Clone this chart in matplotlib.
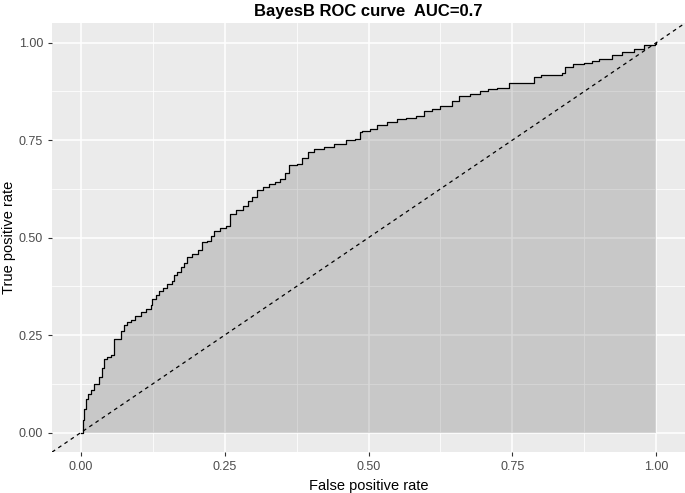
import matplotlib.pyplot as plt
import numpy as np

plt.rcParams['font.family'] = ['Liberation Sans', 'DejaVu Sans']

# ROC curve knots (false positive rate, true positive rate)
fpr = [0.0, 0.003, 0.006, 0.009, 0.012, 0.017, 0.023, 0.032, 0.036, 0.04, 0.046,
       0.052, 0.058, 0.066, 0.07, 0.075, 0.081, 0.087, 0.095, 0.104, 0.113, 0.122,
       0.124, 0.13, 0.136, 0.143, 0.15, 0.159, 0.162, 0.168, 0.174, 0.18, 0.185,
       0.194, 0.203, 0.211, 0.22, 0.226, 0.231, 0.242, 0.252, 0.26, 0.27, 0.281,
       0.29, 0.298, 0.307, 0.317, 0.327, 0.337, 0.347, 0.355, 0.362, 0.376, 0.385,
       0.394, 0.405, 0.422, 0.44, 0.46, 0.477, 0.486, 0.489, 0.503, 0.515, 0.532,
       0.55, 0.565, 0.582, 0.596, 0.61, 0.625, 0.642, 0.645, 0.657, 0.677, 0.694,
       0.708, 0.723, 0.744, 0.778, 0.787, 0.799, 0.836, 0.842, 0.856, 0.874, 0.888,
       0.9, 0.923, 0.94, 0.961, 0.978, 0.998, 1.0]
tpr = [0.0, 0.031, 0.06, 0.085, 0.1, 0.108, 0.125, 0.142, 0.165, 0.19, 0.195,
       0.2, 0.24, 0.24, 0.26, 0.275, 0.283, 0.29, 0.3, 0.308, 0.318, 0.326,
       0.343, 0.352, 0.364, 0.372, 0.381, 0.39, 0.403, 0.412, 0.424, 0.436, 0.45,
       0.458, 0.467, 0.488, 0.492, 0.505, 0.518, 0.525, 0.531, 0.561, 0.57, 0.582,
       0.593, 0.603, 0.621, 0.63, 0.638, 0.643, 0.65, 0.665, 0.685, 0.689, 0.705,
       0.719, 0.727, 0.732, 0.74, 0.75, 0.753, 0.77, 0.774, 0.779, 0.79, 0.797,
       0.804, 0.808, 0.813, 0.826, 0.831, 0.838, 0.838, 0.851, 0.862, 0.868, 0.877,
       0.88, 0.884, 0.897, 0.897, 0.911, 0.917, 0.921, 0.937, 0.945, 0.949, 0.953,
       0.958, 0.969, 0.977, 0.983, 0.993, 0.997, 1.0]

ticks = [0.0, 0.25, 0.5, 0.75, 1.0]
tick_labels = ["0.00", "0.25", "0.50", "0.75", "1.00"]
minor_ticks = [0.125, 0.375, 0.625, 0.875]

fig = plt.figure(figsize=(6.85, 4.93), dpi=100)
ax = fig.add_axes([0.076, 0.083, 0.924, 0.870])
ax.set_facecolor('#EBEBEB')

ax.set_xlim(-0.05, 1.05)
ax.set_ylim(-0.05, 1.05)
ax.set_xticks(ticks)
ax.set_xticklabels(tick_labels)
ax.set_yticks(ticks)
ax.set_yticklabels(tick_labels)
ax.set_xticks(minor_ticks, minor=True)
ax.set_yticks(minor_ticks, minor=True)
ax.grid(which='major', color='white', linewidth=1.1)
ax.grid(which='minor', color='white', linewidth=0.55)
ax.set_axisbelow(True)
ax.tick_params(which='major', length=3, width=0.8, color='#333333',
               labelcolor='#4D4D4D', labelsize=9)
ax.tick_params(which='minor', length=0)
for s in ax.spines.values():
    s.set_visible(False)

ax.fill_between(fpr, tpr, 0, step='post', color='black', alpha=0.15, linewidth=0)
ax.plot(fpr, tpr, drawstyle='steps-post', color='black', linewidth=0.9)
ax.plot([-0.05, 1.05], [-0.05, 1.05], color='black', linestyle=(0, (3, 3)), linewidth=0.9)

ax.set_xlabel("False positive rate", fontsize=10.5, labelpad=4)
ax.set_ylabel("True positive rate", fontsize=10.5, labelpad=2)
ax.set_title("BayesB ROC curve  AUC=0.7", fontsize=12, fontweight='bold', pad=5)

fig.savefig("out.png", dpi=100)
